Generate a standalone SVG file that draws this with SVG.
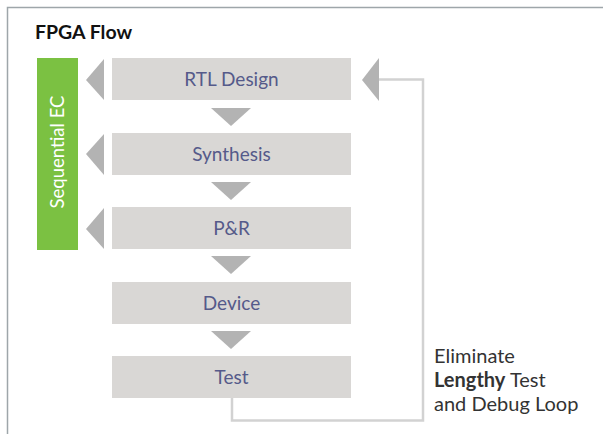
<svg xmlns="http://www.w3.org/2000/svg" width="603" height="434" viewBox="0 0 603 434">
  <style>
    .frame { stroke: #9ea6aa; stroke-width: 1.5; fill: none; }
    .step { fill: #d9d7d5; }
    .label { font-family: Lato, "Open Sans", sans-serif; font-size: 19px; fill: #555a8a; text-anchor: middle; }
    .arrow { fill: #b3b3b3; }
    .loop { stroke: #d2d2d2; stroke-width: 2.5; fill: none; }
    .note { font-family: Lato, "Open Sans", sans-serif; font-size: 20px; fill: #333333; }
  </style>

  <!-- page frame (top and left edges) -->
  <path class="frame" d="M7.5,434 V7.5 H603"/>

  <text x="35" y="39" font-family="Lato, 'Open Sans', sans-serif" font-size="19.5" font-weight="bold" fill="#111111">FPGA Flow</text>

  <!-- sequential equivalence checking bar -->
  <g id="sequential-ec">
    <rect x="37" y="58" width="41" height="192" fill="#7bc142"/>
    <text x="0" y="0" transform="translate(64,152) rotate(-90)" font-family="Lato, 'Open Sans', sans-serif" font-size="18.5" fill="#ffffff" text-anchor="middle">Sequential EC</text>
  </g>

  <!-- flow steps -->
  <g id="rtl-design">
    <rect class="step" x="112" y="58" width="239" height="42"/>
    <text class="label" x="231.5" y="86">RTL Design</text>
  </g>
  <g id="synthesis">
    <rect class="step" x="112" y="133" width="239" height="42"/>
    <text class="label" x="231.5" y="161">Synthesis</text>
  </g>
  <g id="place-route">
    <rect class="step" x="112" y="207" width="239" height="42"/>
    <text class="label" x="231.5" y="235">P&amp;R</text>
  </g>
  <g id="device">
    <rect class="step" x="112" y="282" width="239" height="42"/>
    <text class="label" x="231.5" y="310">Device</text>
  </g>
  <g id="test">
    <rect class="step" x="112" y="356" width="239" height="42"/>
    <text class="label" x="231.5" y="384">Test</text>
  </g>

  <g id="connectors">
    <!-- downward flow arrows -->
    <polygon class="arrow" points="211,108 251,108 231,126"/>
    <polygon class="arrow" points="211,182 251,182 231,200"/>
    <polygon class="arrow" points="211,256 251,256 231,274"/>
    <polygon class="arrow" points="211,331 251,331 231,349"/>
    <!-- checks feeding the EC bar -->
    <polygon class="arrow" points="104,59 104,100 86,80"/>
    <polygon class="arrow" points="104,134 104,175 86,154"/>
    <polygon class="arrow" points="104,208 104,249 86,229"/>
    <!-- test and debug loop back to RTL -->
    <path class="loop" d="M232,398 V420.5 H423 V79.5 H378"/>
    <polygon class="arrow" points="379,58 379,101 362,80"/>
  </g>

  <g id="loop-note">
    <text class="note" x="434" y="363">Eliminate</text>
    <text class="note" x="434" y="387"><tspan font-weight="bold">Lengthy</tspan> Test</text>
    <text class="note" x="434" y="411">and Debug Loop</text>
  </g>
</svg>
